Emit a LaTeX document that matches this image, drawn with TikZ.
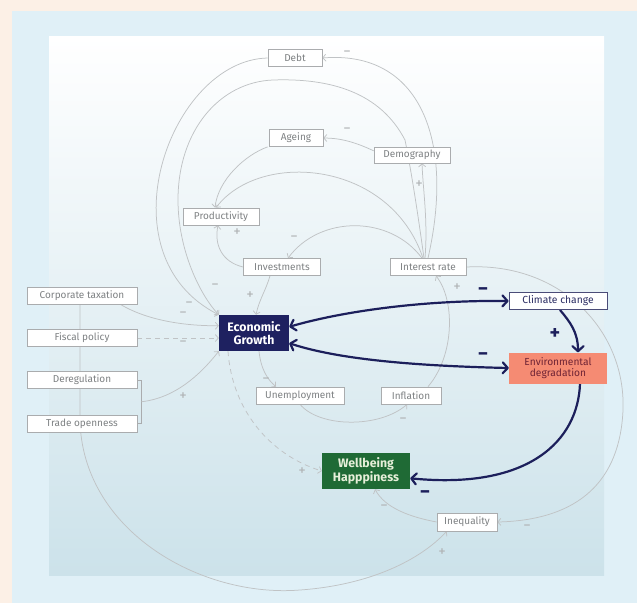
\documentclass[tikz,border=0pt]{standalone}
\usepackage{fontspec}
\setmainfont{Fira Sans}
\usetikzlibrary{arrows.meta,calc}
\definecolor{peach}{HTML}{FCF0E6}
\definecolor{outerblue}{HTML}{E0F0F7}
\definecolor{innerbot}{HTML}{CCE2EA}
\definecolor{innermid}{HTML}{E4F1F6}
\definecolor{linegrey}{HTML}{C0C3C5}
\definecolor{boxgrey}{HTML}{AAACAE}
\definecolor{textgrey}{HTML}{7E8183}
\definecolor{signgrey}{HTML}{B0B3B5}
\definecolor{navy}{HTML}{1C1F5B}
\definecolor{egfill}{HTML}{1E2160}
\definecolor{greenfill}{HTML}{1F6A35}
\definecolor{wbtext}{HTML}{E6EFD9}
\definecolor{envfill}{HTML}{F58B73}
\definecolor{envtext}{HTML}{6E2335}
\definecolor{climborder}{HTML}{4A4C78}
\definecolor{climtext}{HTML}{2B2D63}
\pgfdeclarelayer{bg}
\pgfdeclarelayer{lines}
\pgfsetlayers{bg,lines,main}
\tikzset{
  gbox/.style={draw=boxgrey, fill=white, text=textgrey, line width=0.7pt,
    font=\fontsize{10}{11}\selectfont, minimum height=17pt, inner sep=1pt},
  egbox/.style={fill=egfill, text=white, font=\bfseries\fontsize{12.3}{13}\selectfont,
    minimum width=70pt, minimum height=36pt, align=center, inner sep=1pt},
  wbbox/.style={fill=greenfill, text=wbtext, font=\bfseries\fontsize{12.3}{14}\selectfont,
    minimum width=88pt, minimum height=36pt, align=center, inner sep=1pt},
  envbox/.style={fill=envfill, text=envtext, font=\fontsize{10.2}{11}\selectfont,
    minimum width=98pt, minimum height=31pt, align=center, inner sep=1pt},
  climbox/.style={draw=climborder, fill=white, text=climtext, line width=0.9pt,
    font=\fontsize{10.3}{11}\selectfont, minimum width=98pt, minimum height=17pt, inner sep=1pt},
  gline/.style={draw=linegrey, line width=0.75pt, -{Straight Barb[length=3pt,width=7pt]}},
  gdash/.style={gline, dash pattern=on 5pt off 4pt},
  bline/.style={draw=boxgrey, line width=0.7pt},
  nline/.style={draw=navy, line width=2.2pt, -{Straight Barb[length=5pt,width=11pt,round]}},
  nboth/.style={draw=navy, line width=2.2pt, {Straight Barb[length=5pt,width=11pt,round]}-{Straight Barb[length=5pt,width=11pt,round]}},
  sgn/.style={text=signgrey, font=\fontsize{15}{15}\selectfont, inner sep=0pt, text height=6pt, text depth=0pt},
  nsgn/.style={text=navy, font=\bfseries\fontsize{20}{20}\selectfont, inner sep=0pt, text height=8pt, text depth=0pt}
}
\begin{document}
\begin{tikzpicture}[x=1pt,y=-1pt]
\useasboundingbox (0,0) rectangle (637,603);
\begin{pgfonlayer}{bg}
\fill[peach] (0,0) rectangle (637,603);
\fill[outerblue] (12,11) rectangle (637,603);
\shade[top color=white, middle color=innermid, bottom color=innerbot] (49,36) rectangle (604,575);
\end{pgfonlayer}

% nodes
\node[gbox, minimum width=54pt] (debt) at (295,58) {Debt};
\node[gbox, minimum width=54pt] (ageing) at (296,138) {Ageing};
\node[gbox, minimum width=76pt, minimum height=16pt] (demo) at (412,155) {Demography};
\node[gbox, minimum width=76pt] (prod) at (221,216.5) {Productivity};
\node[gbox, minimum width=77pt] (inv) at (282,267) {Investments};
\node[gbox, minimum width=76pt] (ir) at (428,267) {Interest rate};
\node[gbox, minimum width=110pt] (corp) at (82,295.5) {Corporate taxation};
\node[gbox, minimum width=110pt] (fisc) at (82,338) {Fiscal policy};
\node[gbox, minimum width=110pt] (dereg) at (82,380) {Deregulation};
\node[gbox, minimum width=110pt] (trade) at (82,423.5) {Trade openness};
\node[egbox] (eg) at (254,333) {Economic\\Growth};
\node[climbox] (clim) at (558,301) {Climate change};
\node[envbox] (env) at (558,368) {Environmental\\degradation};
\node[gbox, minimum width=88pt] (unemp) at (300,395.5) {Unemployment};
\node[gbox, minimum width=60pt] (infl) at (411,395.5) {Inflation};
\node[wbbox] (wb) at (366,471) {Wellbeing\\Happpiness};
\node[gbox, minimum width=60pt, minimum height=18pt] (ineq) at (467,522) {Inequality};

% sign labels
\node[sgn] (s1) at (347,53) {−};
\node[sgn] (s2) at (347,130) {−};
\node[sgn] (s3) at (419,185) {+};
\node[sgn] (s4) at (237,233) {+};
\node[sgn] (s5) at (294,238) {−};
\node[sgn] (s6) at (250,296) {+};
\node[sgn] (s7) at (215,286) {−};
\node[sgn] (s8) at (189,304) {−};
\node[sgn] (s9) at (183,314) {−};
\node[sgn] (s10) at (183,343) {−};
\node[sgn] (s11) at (183,397) {+};
\node[sgn] (s12) at (266,380) {−};
\node[sgn] (s13) at (403,420) {−};
\node[sgn] (s14) at (457,288) {+};
\node[sgn] (s15) at (302,472) {+};
\node[sgn] (s16) at (384,507) {−};
\node[sgn] (s17) at (527,527) {−};
\node[sgn] (s18) at (442,553) {+};
\node[nsgn] (n1) at (483,291) {−};
\node[nsgn] (n2) at (483,356) {−};
\node[nsgn] (n3) at (555,335) {+};
\node[nsgn] (n4) at (425,494) {−};

\begin{pgfonlayer}{lines}
% Debt -> EG
\draw[gline] (debt.west) .. controls (170,60) and (100,255) .. (eg.north west);
% IR -> EG big arc
\draw[gline] ([xshift=-4pt]ir.north) .. controls (418,215) and (412,175) .. (405,140)
  .. controls (380,92) and (330,78) .. (273,80)
  .. controls (220,82) and (178,130) .. (178,200)
  .. controls (178,250) and (200,295) .. (eg.north west);
% IR -> Debt
\draw[gline] (ir.north) .. controls (455,140) and (420,50) .. (debt.east);
% IR -> Demography
\draw[gline] ([xshift=-3pt]ir.north) .. controls (428,220) and (423,190) .. ([xshift=10pt]demo.south);
% Demography -> Ageing
\draw[gline] ($(demo.west)!0.5!(demo.north west)$) .. controls (355,142) and (340,138) .. (ageing.east);
% Ageing -> Productivity
\draw[gline] ([xshift=-1pt]ageing.south west) .. controls (245,155) and (218,180) .. ([xshift=-6pt]prod.north);
% IR -> Productivity
\draw[gline] ([xshift=-5pt]ir.north) .. controls (390,160) and (260,150) .. ([xshift=-5pt]prod.north);
% IR -> Investments
\draw[gline] ([xshift=-6pt]ir.north) .. controls (390,215) and (320,215) .. ([xshift=6pt]inv.north);
% Investments -> Productivity
\draw[gline] (inv.west) .. controls (222,262) and (214,245) .. ([xshift=-3pt]prod.south);
% Investments -> EG
\draw[gline] ([xshift=-12pt]inv.south) .. controls (266,290) and (259,300) .. ([xshift=2pt]eg.north);
% Corporate taxation -> EG
\draw[gline] ([xshift=-17pt]corp.south east) .. controls (150,322) and (190,326) .. ($(eg.north west)!0.3!(eg.south west)$);
% Fiscal policy -> EG
\draw[gdash] (fisc.east) -- (fisc.east -| eg.west);
% bracket
\draw[bline] (dereg.east) -- ++(4,0) coordinate (b1) |- (trade.east);
\coordinate (brk) at ($(b1)!0.5!(b1 |- trade.east)$);
\draw[gline] (brk) .. controls (175,398) and (200,375) .. (eg.south west);
% Corporate taxation -> Inequality
\draw[gline] ([xshift=-2pt]corp.south) -- (80,420) .. controls (82,530) and (200,598) .. (300,590)
  .. controls (370,585) and (420,560) .. ([xshift=10pt]ineq.south west);
% EG -> Unemployment
\draw[gline] ([xshift=5pt]eg.south) .. controls (261,370) and (268,380) .. ([xshift=-24pt]unemp.north);
% Unemployment -> Inflation
\draw[gline] (unemp.south) .. controls (320,428) and (380,428) .. ([xshift=-4pt]infl.south);
% Inflation -> IR
\draw[gline] ([xshift=17pt]infl.north) .. controls (455,355) and (455,300) .. ([xshift=8pt]ir.south);
% IR -> Inequality
\draw[gline] (ir.east) .. controls (560,262) and (626,330) .. (623,410)
  .. controls (620,480) and (580,520) .. (ineq.east);
% Inequality -> Wellbeing
\draw[gline] (ineq.west) .. controls (410,517) and (385,508) .. ([xshift=9pt]wb.south);
% EG -> Wellbeing dashed
\draw[gdash] ([xshift=-26pt]eg.south) .. controls (232,410) and (270,455) .. (wb.west);
% navy
\draw[nboth] ($(eg.north east)!0.33!(eg.south east)$) .. controls (340,312) and (420,300) .. (clim.west);
\draw[nboth] ($(eg.north east)!0.78!(eg.south east)$) .. controls (340,360) and (420,366) .. (env.west);
\draw[nline] ([xshift=2pt]clim.south) .. controls (570,322) and (578,332) .. ([xshift=20pt]env.north);
\draw[nline] ([xshift=22pt]env.south) .. controls (578,440) and (530,490) .. ($(wb.north east)!0.7!(wb.south east)$);
\end{pgfonlayer}
\end{tikzpicture}
\end{document}
